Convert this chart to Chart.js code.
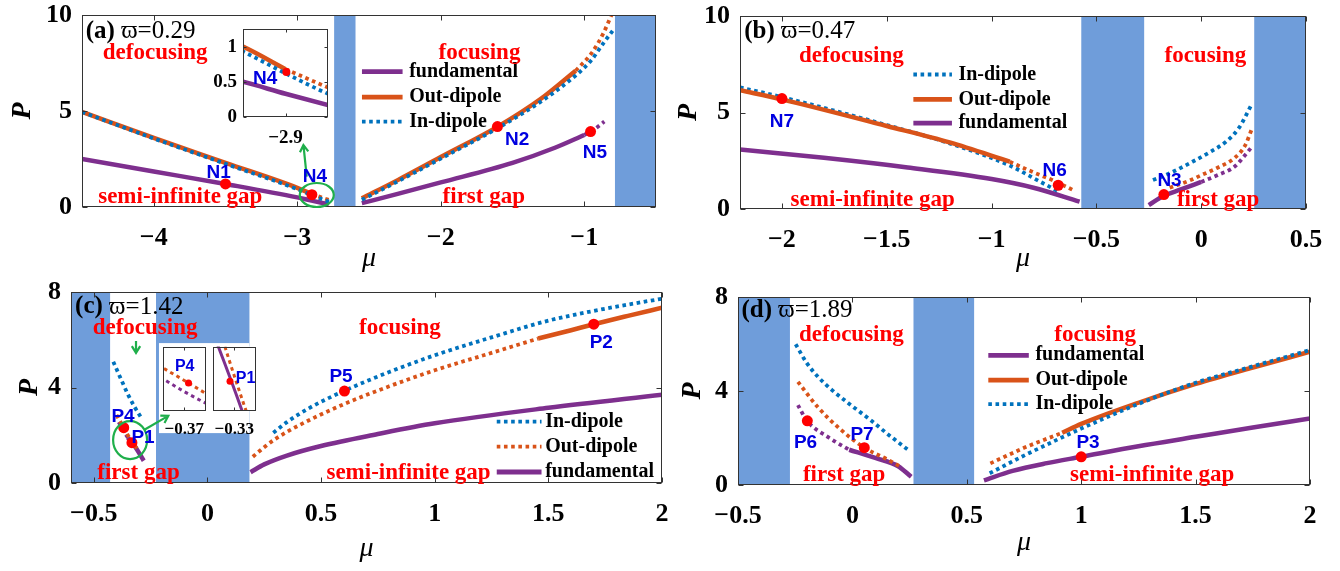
<!DOCTYPE html>
<html><head><meta charset="utf-8">
<script src="https://cdn.jsdelivr.net/npm/chart.js@4.4.1/dist/chart.umd.min.js"></script>
<style>
html,body{margin:0;padding:0;background:#fff}
#wrap{position:relative;width:1340px;height:571px;overflow:hidden;background:#fff}
canvas{position:absolute}
</style></head><body><div id="wrap">
<canvas id="ca" width="670" height="282" style="left:0;top:0"></canvas>
<canvas id="cb" width="670" height="282" style="left:670px;top:0"></canvas>
<canvas id="cc" width="670" height="289" style="left:0;top:282px"></canvas>
<canvas id="cd" width="670" height="289" style="left:670px;top:282px"></canvas>
<canvas id="ia" width="150" height="135" style="left:190px;top:20px"></canvas>
<canvas id="ic1" width="50" height="96" style="left:159px;top:343px"></canvas>
<canvas id="ic2" width="50" height="96" style="left:209px;top:343px"></canvas>
</div>
<script>
// ================= DATA =================
// ---- panel (a), varpi = 0.29 ----
const aXTicks=[-4,-3,-2,-1], aYTicks=[0,5,10];
const aBands=[[-2.743,-2.594],[-0.786,-0.5]];
const aFundSemi=[[-4.5,2.5],[-4.0,1.85],[-3.5,1.2],[-3.0,0.5],[-2.9,0.33],[-2.8,0.17],[-2.78,0.14]];
const aOutSemiSolid=[[-4.5,4.95],[-4.0,3.6],[-3.5,2.3],[-3.0,1.0],[-2.9,0.68]];
const aOutSemiDot=[[-2.9,0.68],[-2.8,0.42],[-2.77,0.35]];
const aInSemi=[[-4.5,4.95],[-4.0,3.57],[-3.5,2.25],[-3.0,0.93],[-2.9,0.62],[-2.8,0.33],[-2.77,0.26]];
const aFundFirstSolid=[[-2.55,0.2],[-2.3,0.68],[-2.0,1.28],[-1.5,2.3],[-1.2,3.1],[-1.0,3.75]];
const aFundFirstDot=[[-1.0,3.75],[-0.93,4.05],[-0.86,4.45]];
const aOutFirstSolid=[[-2.55,0.45],[-2.3,1.4],[-2.0,2.6],[-1.6,4.2],[-1.3,5.65],[-1.06,7.1]];
const aOutFirstDot=[[-1.06,7.1],[-0.95,8.0],[-0.87,9.0],[-0.81,10.0]];
const aInFirst=[[-2.55,0.38],[-2.3,1.33],[-2.0,2.52],[-1.6,4.12],[-1.3,5.5],[-1.06,6.85],[-0.95,7.65],[-0.87,8.5],[-0.79,9.3]];
const aMarks=[[-3.5,1.2],[-2.898,0.64],[-1.605,4.19],[-0.956,3.93]]; // N1 N4 N2 N5
const aInsetXTicks=[-2.9], aInsetYTicks=[0,0.5,1];

// ---- panel (b), varpi = 0.47 ----
const bXTicks=[-2,-1.5,-1,-0.5,0,0.5], bYTicks=[0,5,10];
const bBands=[[-0.572,-0.272],[0.253,0.5]];
const bInSemi=[[-2.2,6.3],[-2.0,5.8],[-1.5,4.35],[-1.2,3.4],[-0.913,2.25],[-0.8,1.6],[-0.68,0.9]];
const bOutSemiSolid=[[-2.2,6.15],[-2.0,5.68],[-1.5,4.3],[-1.2,3.45],[-0.913,2.45]];
const bOutSemiDot=[[-0.913,2.45],[-0.8,1.9],[-0.7,1.45],[-0.6,0.92]];
const bFundSemi=[[-2.2,3.08],[-1.8,2.65],[-1.4,2.15],[-1.0,1.55],[-0.8,1.1],[-0.58,0.38]];
const bInFirst=[[-0.23,1.5],[-0.15,1.85],[-0.05,2.4],[0.05,3.0],[0.12,3.5],[0.18,4.2],[0.24,5.4]];
const bOutFirst=[[-0.15,1.1],[-0.05,1.5],[0,1.75],[0.08,2.15],[0.16,2.65],[0.21,3.3],[0.24,4.1]];
const bFundFirstSolid=[[-0.25,0.2],[-0.18,0.67],[-0.1,1.0],[0,1.4]];
const bFundFirstDot=[[0,1.4],[0.08,1.76],[0.16,2.2],[0.21,2.8],[0.24,3.2]];
const bMarks=[[-2.0,5.72],[-0.682,1.23],[-0.178,0.75]]; // N7 N6 N3

// ---- panel (c), varpi = 1.42 ----
const cXTicks=[-0.5,0,0.5,1,1.5,2], cYTicks=[0,4,8];
const cBands=[[-0.6,-0.428],[-0.226,0.185]];
const cInFirst=[[-0.414,5.08],[-0.38,4.35],[-0.35,3.72],[-0.32,3.18],[-0.29,2.72]];
const cOutFirst=[[-0.40,2.85],[-0.37,2.35],[-0.34,1.84],[-0.31,1.45]];
const cFundFirstDot=[[-0.39,2.55],[-0.37,2.2],[-0.35,1.9]];
const cFundFirstSolid=[[-0.35,1.9],[-0.32,1.55],[-0.28,0.93]];
const cInSemi=[[0.29,2.1],[0.35,2.55],[0.45,3.15],[0.6,3.85],[0.8,4.65],[1.0,5.35],[1.25,6.1],[1.5,6.8],[1.75,7.3],[2.0,7.72]];
const cOutSemiDot=[[0.2,1.1],[0.25,1.5],[0.3,1.85],[0.4,2.4],[0.6,3.3],[0.8,4.05],[1.0,4.72],[1.25,5.45],[1.455,6.05]];
const cOutSemiSolid=[[1.455,6.05],[1.6,6.4],[1.7,6.65],[1.85,7.0],[2.0,7.34]];
const cFundSemi=[[0.19,0.45],[0.25,0.78],[0.35,1.15],[0.5,1.55],[0.75,2.05],[1.0,2.5],[1.5,3.15],[2.0,3.7]];
const cMarks=[[-0.368,2.316],[-0.332,1.69],[0.603,3.85],[1.7,6.65]]; // P4 P1 P5 P2
const cInset1XTicks=[-0.37], cInset2XTicks=[-0.33];

// ---- panel (d), varpi = 1.89 ----
const dXTicks=[-0.5,0,0.5,1,1.5,2], dYTicks=[0,4,8];
const dBands=[[-0.5,-0.273],[0.267,0.532]];
const dInFirst=[[-0.248,5.99],[-0.2,5.2],[-0.15,4.6],[-0.089,4.04],[0,3.35],[0.08,2.76],[0.15,2.2],[0.244,1.49]];
const dOutFirst=[[-0.238,4.39],[-0.15,3.3],[-0.05,2.35],[0.05,1.6],[0.15,1.1],[0.21,0.78]];
const dFundFirstDot=[[-0.238,3.4],[-0.2,2.75],[-0.1,2.0],[-0.014,1.5]];
const dFundFirstSolid=[[-0.014,1.5],[0.1,1.15],[0.2,0.8],[0.257,0.35]];
const dFundSemi=[[0.575,0.2],[0.7,0.6],[0.85,0.93],[1.0,1.2],[1.25,1.65],[1.5,2.05],[1.75,2.45],[2.0,2.83]];
const dOutSemiDot=[[0.603,0.92],[0.75,1.58],[0.917,2.22]];
const dOutSemiSolid=[[0.917,2.22],[1.0,2.6],[1.25,3.5],[1.5,4.3],[1.75,5.0],[2.0,5.67]];
const dInSemi=[[0.6,0.5],[0.75,1.25],[0.9,1.95],[1.0,2.4],[1.25,3.45],[1.5,4.35],[1.75,5.05],[2.0,5.74]];
const dMarks=[[-0.197,2.73],[0.052,1.59],[1.0,1.2]]; // P6 P7 P3

// ================= STYLE =================
const SERIF='"Times New Roman","Liberation Serif","DejaVu Serif",serif';
const SANS='Arial,"Liberation Sans","DejaVu Sans",sans-serif';
const PURPLE='#7E2F8E', ORANGE='#D95319', BLUE='#0072BD', RED='#FF0000', LBLUE='#0000E0', BAND='#6F9DDA', GREEN='#1FAF4B';
const FONTS={red:'bold 23px '+SERIF, lab:'bold 19px '+SANS, labs:'bold 16px '+SANS, leg:'bold 20px '+SERIF};
const COLS={red:RED, lab:LBLUE, labs:LBLUE};
const fmt=v=>String(v).replace('-','\u2212');

function L(pts,color,dotted,order,w){return {data:pts.map(p=>({x:p[0],y:p[1]})),showLine:true,borderColor:color,backgroundColor:color,borderWidth:w||(dotted?3.8:4.5),borderDash:dotted?[3.6,3.6]:[],borderCapStyle:'butt',pointRadius:0,pointHoverRadius:0,cubicInterpolationMode:'monotone',order:order,fill:false};}
function D(pts,r){return {data:pts.map(p=>({x:p[0],y:p[1]})),showLine:false,pointRadius:r||5.5,pointHoverRadius:0,pointBorderWidth:0,pointBackgroundColor:RED,borderColor:RED,backgroundColor:RED,order:0};}

// ================= DECORATION (positions in data units) =================
const DECOR={
 ca:{bands:aBands,xt:aXTicks,yt:aYTicks,tl:5,ttl:{px:61,my:56},
  panel:{x:-4.474,y:9.13,a:'(a)',b:' ϖ=0.29'},
  texts:[{t:'defocusing',x:-3.99,y:8.0,k:'red'},{t:'focusing',x:-1.73,y:8.0,k:'red'},
   {t:'semi-infinite gap',x:-3.815,y:0.52,k:'red'},{t:'first gap',x:-1.70,y:0.52,k:'red'},
   {t:'N1',x:-3.547,y:1.8,k:'lab'},{t:'N4',x:-2.877,y:1.6,k:'lab'},{t:'N2',x:-1.468,y:3.5,k:'lab'},{t:'N5',x:-0.926,y:2.8,k:'lab'}],
  legend:{x0:-2.549,x1:-2.266,xt:-2.22,rows:[['fundamental',PURPLE,false,7.05],['Out-dipole',ORANGE,false,5.72],['In-dipole',BLUE,true,4.45]]},
  ellipses:[{x:-2.864,y:0.625,rx:17,ry:12}],
  arrows:[{x0:-2.934,y0:1.58,x1:-2.957,y1:3.23}]},
 cb:{bands:bBands,xt:bXTicks,yt:bYTicks,tl:5,ttl:{px:53,my:54},
  panel:{x:-2.18,y:9.2,a:'(b)',b:' ϖ=0.47'},
  texts:[{t:'defocusing',x:-1.669,y:7.9,k:'red'},{t:'focusing',x:0.02,y:7.9,k:'red'},
   {t:'semi-infinite gap',x:-1.567,y:0.46,k:'red'},{t:'first gap',x:0.081,y:0.46,k:'red'},
   {t:'N7',x:-2.0,y:4.52,k:'lab'},{t:'N6',x:-0.699,y:2.0,k:'lab'},{t:'N3',x:-0.151,y:1.44,k:'lab'}],
  legend:{x0:-1.373,x1:-1.189,xt:-1.158,rows:[['In-dipole',BLUE,true,6.97],['Out-dipole',ORANGE,false,5.68],['fundamental',PURPLE,false,4.45]]}},
 cc:{bands:cBands,xt:cXTicks,yt:cYTicks,tl:5,ttl:{px:43,my:70},
  whites:[{x0:-0.213,x1:0.185,y0:2.09,y1:5.86}],
  panel:{x:-0.582,y:7.37,a:'(c)',b:' ϖ=1.42'},
  texts:[{t:'defocusing',x:-0.274,y:6.5,k:'red'},{t:'focusing',x:0.847,y:6.5,k:'red'},
   {t:'semi-infinite gap',x:0.885,y:0.42,k:'red'},{t:'first gap',x:-0.303,y:0.42,k:'red'},
   {t:'P4',x:-0.371,y:2.76,k:'lab'},{t:'P1',x:-0.283,y:1.88,k:'lab'},{t:'P5',x:0.588,y:4.43,k:'lab'},{t:'P2',x:1.733,y:5.87,k:'lab'}],
  legend:{x0:1.273,x1:1.47,xt:1.486,rows:[['In-dipole',BLUE,true,2.57],['Out-dipole',ORANGE,true,1.52],['fundamental',PURPLE,false,0.46]]},
  ellipses:[{x:-0.34,y:1.8,rx:17,ry:19}],
  arrows:[{x0:-0.279,y0:2.22,x1:-0.172,y1:2.81},{x0:-0.314,y0:5.95,x1:-0.314,y1:5.45}]},
 cd:{bands:dBands,xt:dXTicks,yt:dYTicks,tl:5,ttl:{px:47,my:62},
  panel:{x:-0.485,y:7.44,a:'(d)',b:' ϖ=1.89'},
  texts:[{t:'defocusing',x:-0.0045,y:6.37,k:'red'},{t:'focusing',x:1.061,y:6.37,k:'red'},
   {t:'first gap',x:-0.036,y:0.42,k:'red'},{t:'semi-infinite gap',x:1.31,y:0.42,k:'red'},
   {t:'P6',x:-0.205,y:1.8,k:'lab'},{t:'P7',x:0.042,y:2.12,k:'lab'},{t:'P3',x:1.03,y:1.8,k:'lab'}],
  legend:{x0:0.594,x1:0.771,xt:0.8,rows:[['fundamental',PURPLE,false,5.52],['Out-dipole',ORANGE,false,4.46],['In-dipole',BLUE,true,3.44]]}},
 ia:{xt:aInsetXTicks,yt:aInsetYTicks,tl:3,texts:[{t:'N4',x:-2.948,y:0.548,k:'lab'}]},
 ic1:{xt:cInset1XTicks,yt:[],tl:3,texts:[{t:'P4',x:-0.3698,y:2.53,k:'labs'}]},
 ic2:{xt:cInset2XTicks,yt:[],tl:3,texts:[{t:'P1',x:-0.3247,y:1.696,k:'labs'}]}
};

function arrow(ctx,x0,y0,x1,y1){
  ctx.beginPath();ctx.moveTo(x0,y0);ctx.lineTo(x1,y1);
  const a=Math.atan2(y1-y0,x1-x0),h=8;
  ctx.moveTo(x1-h*Math.cos(a-0.55),y1-h*Math.sin(a-0.55));ctx.lineTo(x1,y1);
  ctx.lineTo(x1-h*Math.cos(a+0.55),y1-h*Math.sin(a+0.55));ctx.stroke();
}

const decorPlugin={id:'decor',
 beforeDatasetsDraw(chart){
  const d=DECOR[chart.canvas.id];if(!d)return;
  const {ctx,chartArea:a,scales:{x,y}}=chart;
  ctx.save();
  ctx.fillStyle='#fff';ctx.fillRect(a.left,a.top,a.width,a.height);
  (d.bands||[]).forEach(b=>{const x0=x.getPixelForValue(b[0]),x1=x.getPixelForValue(b[1]);ctx.fillStyle=BAND;ctx.fillRect(x0,a.top,x1-x0,a.height);});
  (d.whites||[]).forEach(w=>{const x0=x.getPixelForValue(w.x0),x1=x.getPixelForValue(w.x1),y0=y.getPixelForValue(w.y0),y1=y.getPixelForValue(w.y1);ctx.fillStyle='#fff';ctx.fillRect(x0,y1,x1-x0,y0-y1);});
  ctx.restore();
 },
 afterDatasetsDraw(chart){
  const d=DECOR[chart.canvas.id];if(!d)return;
  const {ctx,chartArea:a,scales:{x,y}}=chart;
  ctx.save();
  // frame + inward ticks (MATLAB box)
  ctx.strokeStyle='#333';ctx.lineWidth=1;ctx.setLineDash([]);
  const l=Math.round(a.left)+0.5,r=Math.round(a.right)-0.5,t=Math.round(a.top)+0.5,b=Math.round(a.bottom)-0.5;
  ctx.strokeRect(l,t,r-l,b-t);
  ctx.beginPath();
  d.xt.forEach(v=>{const px=Math.round(x.getPixelForValue(v))+0.5;ctx.moveTo(px,b);ctx.lineTo(px,b-d.tl);ctx.moveTo(px,t);ctx.lineTo(px,t+d.tl);});
  d.yt.forEach(v=>{const py=Math.round(y.getPixelForValue(v))+0.5;ctx.moveTo(l,py);ctx.lineTo(l+d.tl,py);ctx.moveTo(r,py);ctx.lineTo(r-d.tl,py);});
  ctx.stroke();
  // axis titles
  if(d.ttl){ctx.fillStyle='#000';ctx.textAlign='center';ctx.textBaseline='alphabetic';
   ctx.font='italic 28px '+SERIF;ctx.fillText('μ',(a.left+a.right)/2,a.bottom+d.ttl.my+3);
   ctx.save();ctx.translate(a.left-d.ttl.px+9,(a.top+a.bottom)/2);ctx.rotate(-Math.PI/2);
   ctx.font='italic bold 28px '+SERIF;ctx.fillText('P',0,0);ctx.restore();}
  // legend
  if(d.legend){const g=d.legend,p0=x.getPixelForValue(g.x0),p1=x.getPixelForValue(g.x1),pt=x.getPixelForValue(g.xt);
   g.rows.forEach(rw=>{const py=y.getPixelForValue(rw[3]);ctx.beginPath();ctx.strokeStyle=rw[1];ctx.lineWidth=rw[2]?3.8:4.8;ctx.setLineDash(rw[2]?[3.6,3.6]:[]);ctx.moveTo(p0,py);ctx.lineTo(p1,py);ctx.stroke();ctx.setLineDash([]);
    ctx.fillStyle='#000';ctx.font=FONTS.leg;ctx.textAlign='left';ctx.textBaseline='middle';ctx.fillText(rw[0],pt,py);});}
  // green marks
  ctx.strokeStyle=GREEN;ctx.lineWidth=2.2;ctx.setLineDash([]);
  (d.ellipses||[]).forEach(e=>{ctx.beginPath();ctx.ellipse(x.getPixelForValue(e.x),y.getPixelForValue(e.y),e.rx,e.ry,0,0,Math.PI*2);ctx.stroke();});
  (d.arrows||[]).forEach(w=>arrow(ctx,x.getPixelForValue(w.x0),y.getPixelForValue(w.y0),x.getPixelForValue(w.x1),y.getPixelForValue(w.y1)));
  // texts
  ctx.textAlign='center';ctx.textBaseline='middle';
  (d.texts||[]).forEach(s=>{ctx.font=FONTS[s.k];ctx.fillStyle=COLS[s.k];ctx.fillText(s.t,x.getPixelForValue(s.x),y.getPixelForValue(s.y));});
  if(d.panel){const p=d.panel,px=x.getPixelForValue(p.x),py=y.getPixelForValue(p.y);ctx.textAlign='left';ctx.fillStyle='#000';
   ctx.font='bold 25px '+SERIF;ctx.fillText(p.a,px,py);const w=ctx.measureText(p.a).width;ctx.font='25px '+SERIF;ctx.fillText(p.b,px+w,py);}
  ctx.restore();
 }};

function build(id,g,datasets){
  const cv=document.getElementById(id),W=cv.width,H=cv.height,dc=DECOR[id];
  return new Chart(cv,{type:'scatter',data:{datasets},options:{
    responsive:false,animation:false,events:[],
    layout:{padding:{left:0,right:W-g.R,top:g.T,bottom:0}},
    plugins:{legend:{display:false},tooltip:{enabled:false}},
    scales:{
     x:{type:'linear',bounds:'data',min:g.xmin,max:g.xmax,grid:{display:false,drawTicks:false},border:{display:false},
      afterBuildTicks:s=>{s.ticks=dc.xt.map(v=>({value:v}));},
      afterFit:s=>{s.height=H-g.B;s.paddingLeft=0;s.paddingRight=0;},
      ticks:{autoSkip:false,maxRotation:0,minRotation:0,padding:g.xpad,color:'#000',font:{family:SERIF,size:g.fs,weight:'bold'},callback:fmt},
      title:{display:false}},
     y:{type:'linear',bounds:'data',min:g.ymin,max:g.ymax,grid:{display:false,drawTicks:false},border:{display:false},
      afterBuildTicks:s=>{s.ticks=dc.yt.map(v=>({value:v}));},
      afterFit:s=>{s.width=g.L;s.paddingTop=0;s.paddingBottom=0;},
      ticks:{display:dc.yt.length>0,autoSkip:false,padding:g.ypad,color:'#000',font:{family:SERIF,size:g.fs,weight:'bold'},callback:fmt},
      title:{display:false}}
    }},plugins:[decorPlugin]});
}

// ---- main panels ----
build('ca',{L:82,R:656,T:15,B:207,xmin:-4.5,xmax:-0.5,ymin:0,ymax:10,fs:26,xpad:16,ypad:10},[
 L(aFundSemi,PURPLE,false,3),L(aFundFirstSolid,PURPLE,false,3),L(aFundFirstDot,PURPLE,true,3),
 L(aOutSemiSolid,ORANGE,false,2),L(aOutSemiDot,ORANGE,true,2),L(aOutFirstSolid,ORANGE,false,2),L(aOutFirstDot,ORANGE,true,2),
 L(aInSemi,BLUE,true,1),L(aInFirst,BLUE,true,1),D(aMarks)]);
build('cb',{L:70,R:636,T:16,B:209,xmin:-2.2,xmax:0.5,ymin:0,ymax:10,fs:26,xpad:16,ypad:10},[
 L(bFundSemi,PURPLE,false,3),L(bFundFirstSolid,PURPLE,false,3),L(bFundFirstDot,PURPLE,true,3),
 L(bInSemi,BLUE,true,2),L(bInFirst,BLUE,true,1),
 L(bOutSemiSolid,ORANGE,false,1),L(bOutSemiDot,ORANGE,true,1),L(bOutFirst,ORANGE,true,1),D(bMarks)]);
build('cc',{L:71,R:662,T:10,B:201,xmin:-0.6,xmax:2,ymin:0,ymax:8,fs:26,xpad:16,ypad:10},[
 L(cFundFirstDot,PURPLE,true,3),L(cFundFirstSolid,PURPLE,false,3),L(cFundSemi,PURPLE,false,3),
 L(cOutFirst,ORANGE,true,2),L(cOutSemiDot,ORANGE,true,2),L(cOutSemiSolid,ORANGE,false,2),
 L(cInFirst,BLUE,true,1),L(cInSemi,BLUE,true,1),D(cMarks)]);
build('cd',{L:68,R:640,T:15,B:203,xmin:-0.5,xmax:2,ymin:0,ymax:8,fs:26,xpad:16,ypad:10},[
 L(dFundFirstDot,PURPLE,true,3),L(dFundFirstSolid,PURPLE,false,3),L(dFundSemi,PURPLE,false,3),
 L(dOutFirst,ORANGE,true,2),L(dOutSemiDot,ORANGE,true,2),L(dOutSemiSolid,ORANGE,false,2),
 L(dInFirst,BLUE,true,1),L(dInSemi,BLUE,true,1),D(dMarks)]);

// ---- insets ----
build('ia',{L:53,R:138,T:9,B:97,xmin:-3.0,xmax:-2.8,ymin:0,ymax:1.25,fs:19,xpad:10,ypad:6},[
 L(aFundSemi,PURPLE,false,3),L(aOutSemiSolid,ORANGE,false,2),L(aOutSemiDot,ORANGE,true,2),L(aInSemi,BLUE,true,1),D([aMarks[1]],4)]);
build('ic1',{L:4,R:49,T:3,B:68,xmin:-0.38,xmax:-0.36,ymin:1.94,ymax:2.805,fs:17,xpad:8,ypad:2},[
 L(cFundFirstDot,PURPLE,true,3,3),L(cFundFirstSolid,PURPLE,false,3,3),L(cOutFirst,ORANGE,true,2,3),D([cMarks[0]],3.5)]);
build('ic2',{L:4,R:48,T:3,B:68,xmin:-0.34,xmax:-0.32,ymin:1.63,ymax:1.76,fs:17,xpad:8,ypad:2},[
 L(cFundFirstDot,PURPLE,true,3,3),L(cFundFirstSolid,PURPLE,false,3,3),L(cOutFirst,ORANGE,true,2,3),D([cMarks[1]],3.5)]);
</script>
</body></html>
